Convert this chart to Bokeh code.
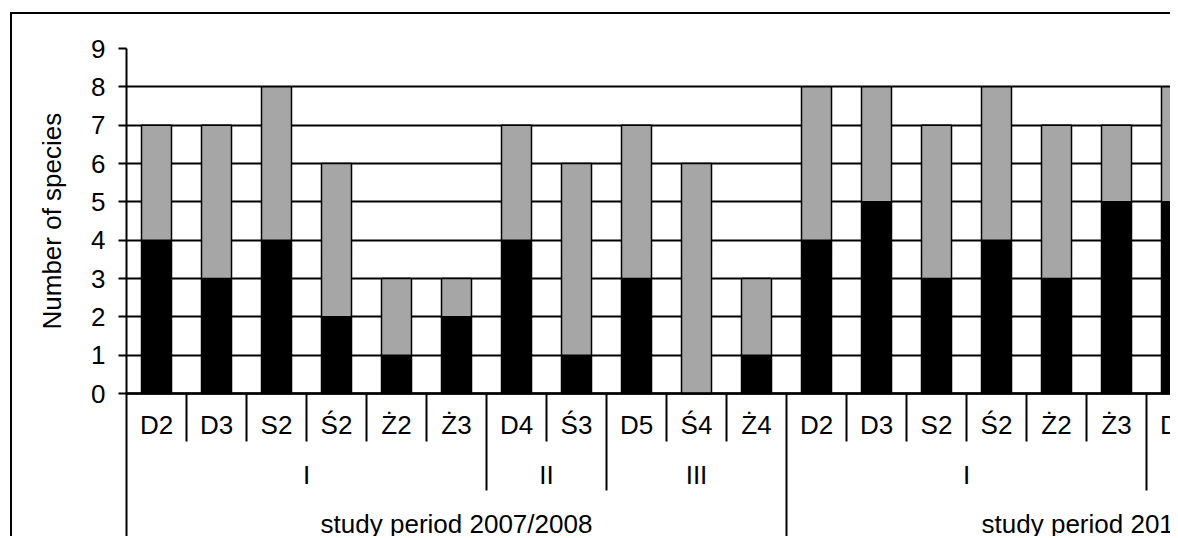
from bokeh.plotting import figure
from bokeh.models import Range1d, FixedTicker, Span, ColumnDataSource, Title
from bokeh.core.properties import value
from bokeh.embed import file_html
from bokeh.resources import INLINE

# ---------------- data ----------------
periods = ["study period 2007/2008"] * 11 + ["study period 2010/2011"] * 11
groups = ["I"] * 6 + ["II"] * 2 + ["III"] * 3 + ["I"] * 6 + ["II"] * 2 + ["III"] * 3
sites = ["D2", "D3", "S2", "Ś2", "Ż2", "Ż3", "D4", "Ś3", "D5", "Ś4", "Ż4",
         "D2", "D3", "S2", "Ś2", "Ż2", "Ż3", "D4", "Ś3", "D5", "Ś4", "Ż4"]
# visible bars only (first 18 categories)
black_vals = [4, 3, 4, 2, 1, 2, 4, 1, 3, 0, 1, 4, 5, 3, 4, 3, 5, 5]
grey_vals = [3, 4, 4, 4, 2, 1, 3, 5, 4, 6, 2, 4, 3, 4, 4, 4, 2, 3]
y_ticks = [0, 1, 2, 3, 4, 5, 6, 7, 8, 9]
y_title = "Number of species"

# ---------------- layout ----------------
FONT = "Liberation Sans"
FS = "26px"
ORG_X, ORG_Y = 12, 14          # canvas origin on the page (after css border)
W, H = 1172 - ORG_X, 538 - ORG_Y
LEFT, TOP = 126 - ORG_X, 48 - ORG_Y
FRAME_W, FRAME_H = W - LEFT, H - TOP
CAT_PX = 60.0
UNIT = 345.0 / 9          # px per species
YMAX = 9
YMIN = YMAX - FRAME_H / UNIT

def dy(px):               # pixel offset below the zero line -> data units
    return -px / UNIT

p = figure(width=W, height=H, output_backend="svg", toolbar_location=None,
           x_range=Range1d(0, FRAME_W / CAT_PX), y_range=Range1d(YMIN, YMAX),
           x_axis_location=None, min_border_left=LEFT, min_border_top=TOP,
           min_border_right=0, min_border_bottom=0,
           styles={"margin-left": "10px", "margin-top": "12px",
                   "border-left": "2px solid black", "border-top": "2px solid black"})
p.outline_line_color = None
p.background_fill_color = "white"
p.border_fill_color = "white"

# grid
p.xgrid.visible = False
p.ygrid.ticker = FixedTicker(ticks=y_ticks)
p.ygrid.grid_line_color = "black"
p.ygrid.grid_line_width = 1.8

# y axis
ax = p.yaxis[0]
ax.ticker = FixedTicker(ticks=y_ticks)
ax.axis_line_color = "black"
ax.axis_line_width = 2
ax.major_tick_line_color = "black"
ax.major_tick_line_width = 2
ax.major_tick_out = 8
ax.major_tick_in = 0
ax.minor_tick_line_color = None
ax.major_label_text_font = FONT
ax.major_label_text_font_size = FS
ax.major_label_text_color = "black"
ax.major_label_standoff = 13

# axis title (left panel); its lower end is lifted so that it is centred on 0..9
title_len_px = 217
title_bottom_px = (YMAX - 4.5) * UNIT + title_len_px / 2
p.add_layout(Title(text=y_title, align="left",
                   offset=FRAME_H - title_bottom_px,
                   text_font=FONT, text_font_size=FS, text_font_style="normal",
                   text_color="black", standoff=44), "left")

# bars
n = len(black_vals)
src = ColumnDataSource(dict(x=[i + 0.5 for i in range(n)],
                            black=black_vals, grey=grey_vals))
p.vbar_stack(["black", "grey"], x="x", width=0.5, source=src,
             fill_color=["black", "#A6A6A6"], line_color="black", line_width=1.5)

# zero line
p.add_layout(Span(location=0, dimension="width", line_color="black", line_width=2.5))

# ---------------- multi-level category axis ----------------
N = len(sites)
site_y = dy(31)
group_y = dy(81)
period_y = dy(130)

p.text(x=[i + 0.5 for i in range(N)], y=[site_y] * N, text=sites,
       text_font=value(FONT), text_font_size=FS, text_color="black",
       text_align="center", text_baseline="middle")

def spans(labels, keys):
    out = []
    start = 0
    for i in range(1, len(keys) + 1):
        if i == len(keys) or keys[i] != keys[start]:
            out.append((start, i, labels[start]))
            start = i
    return out

grp_spans = spans(groups, list(zip(periods, groups)))
per_spans = spans(periods, periods)

p.text(x=[(a + b) / 2 for a, b, _ in grp_spans], y=[group_y] * len(grp_spans),
       text=[t for _, _, t in grp_spans],
       text_font=value(FONT), text_font_size=FS, text_color="black",
       text_align="center", text_baseline="middle")
p.text(x=[(a + b) / 2 for a, b, _ in per_spans], y=[period_y] * len(per_spans),
       text=[t for _, _, t in per_spans],
       text_font=value(FONT), text_font_size=FS, text_color="black",
       text_align="center", text_baseline="middle")

grp_bounds = set(b for _, b, _ in grp_spans)
per_bounds = set(b for _, b, _ in per_spans)
x0s, y0s, y1s = [], [], []
for i in range(1, N + 1):
    if i in per_bounds:
        y1 = YMIN - 1
    elif i in grp_bounds:
        y1 = dy(97)
    else:
        y1 = dy(48)
    x0s.append(i); y0s.append(0); y1s.append(y1)
p.segment(x0=x0s, y0=y0s, x1=x0s, y1=y1s, line_color="black", line_width=2)

open("out.html", "w").write(file_html(p, INLINE))
